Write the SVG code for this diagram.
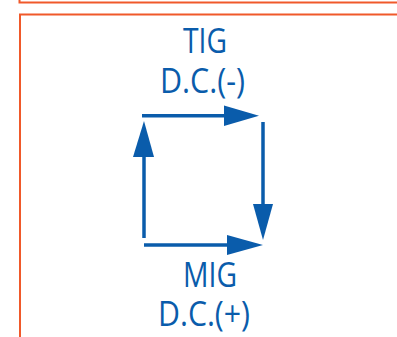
<svg xmlns="http://www.w3.org/2000/svg" width="397" height="337" viewBox="0 0 397 337">
<style>
.frame{fill:none;stroke:#f0592a;stroke-width:2}
.lbl{font-family:"Open Sans","Liberation Sans",sans-serif;font-size:35px;fill:#0a5cab;text-anchor:middle}
.ln{stroke:#0a5cab;stroke-width:3.5;fill:none}
.hd{fill:#0a5cab}
</style>
<rect class="frame" x="19.5" y="-20" width="400" height="22.5"/>
<rect class="frame" x="20" y="14.5" width="400" height="340"/>
<g id="tig">
<text class="lbl" x="205" y="53" textLength="44" lengthAdjust="spacingAndGlyphs">TIG</text>
<text class="lbl" x="202.5" y="93" textLength="85" lengthAdjust="spacingAndGlyphs">D.C.(-)</text>
</g>
<g id="mig">
<text class="lbl" x="210" y="287" textLength="54" lengthAdjust="spacingAndGlyphs">MIG</text>
<text class="lbl" x="204" y="326" textLength="92" lengthAdjust="spacingAndGlyphs">D.C.(+)</text>
</g>
<g id="connectors">
<line class="ln" x1="142" y1="115.7" x2="226" y2="115.7"/>
<polygon class="hd" points="224,105.5 259,115.7 224,126"/>
<line class="ln" x1="263" y1="122" x2="263" y2="206"/>
<polygon class="hd" points="253,204 273,204 263,240"/>
<line class="ln" x1="144" y1="245" x2="229" y2="245"/>
<polygon class="hd" points="227,235 263,245 227,255"/>
<line class="ln" x1="144" y1="238" x2="144" y2="155"/>
<polygon class="hd" points="133,157 154,157 144,121"/>
</g>
</svg>
